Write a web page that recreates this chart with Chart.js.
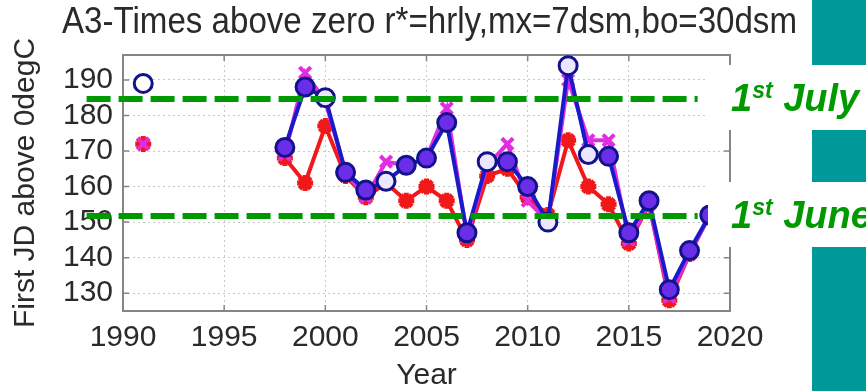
<!DOCTYPE html>
<html>
<head>
<meta charset="utf-8">
<script src="https://cdn.jsdelivr.net/npm/chart.js@4.4.1/dist/chart.umd.min.js"></script>
<style>
html, body { margin: 0; padding: 0; background: #fff; }
#wrap { width: 866px; height: 391px; }
</style>
</head>
<body>
<div id="wrap"><canvas id="grafico" width="866" height="391"></canvas></div>
<script>
// anos e valores (dia juliano)
const anos = [1991, 1992, 1993, 1994, 1995, 1996, 1997, 1998, 1999, 2000,
              2001, 2002, 2003, 2004, 2005, 2006, 2007, 2008, 2009, 2010,
              2011, 2012, 2013, 2014, 2015, 2016, 2017, 2018, 2019];
const serieAzul = [189, null, null, null, null, null, null, 171, 188, 185,
                   164, 159, 161.5, 166, 168, 178, 147, 167, 167, 160,
                   150, 194, 169, 168.5, 147, 156, 131, 142, 152];
const serieMagenta = [172, null, null, null, null, null, null, 169, 192, 184,
                      164, 157, 167, 166, 168, 182, 146, 166, 172, 156,
                      150, 190, 173, 173, 145, 155, 129, 141, 152];
const serieVermelha = [172, null, null, null, null, null, null, 168, 161, 177,
                       163, 157, 161, 156, 160, 156, 145, 163, 165, 157,
                       152, 173, 160, 155, 144, 155, 128, 141, 152];
const circulosAbertos = [1991, 2000, 2003, 2008, 2011, 2012, 2013];

const ticksX = [1990, 1995, 2000, 2005, 2010, 2015, 2020];
const ticksY = [130, 140, 150, 160, 170, 180, 190];

// linhas de referencia: 1 de julho e 1 de junho
const referencias = [
    { dia: 184.6, texto: 'July' },
    { dia: 151.7, texto: 'June' }
];

const titulo = 'A3-Times above zero r*=hrly,mx=7dsm,bo=30dsm';
const fonte = '"Liberation Sans", Arial, sans-serif';

function pontos(valores) {
    return anos.map((a, i) => ({ x: a, y: valores[i] }));
}

const extras = {
    id: 'extras',
    beforeDatasetsDraw(chart) {
        const { ctx, chartArea: a } = chart;
        const x = chart.scales.x, y = chart.scales.y;
        ctx.save();
        ctx.strokeStyle = '#858585';
        ctx.lineWidth = 2;
        ctx.strokeRect(a.left, a.top, a.right - a.left, a.bottom - a.top);
        // pequenos tracos para dentro em cada tick
        ctx.lineWidth = 1.5;
        ctx.beginPath();
        ticksX.forEach(v => {
            const px = x.getPixelForValue(v);
            ctx.moveTo(px, a.bottom); ctx.lineTo(px, a.bottom - 6);
            ctx.moveTo(px, a.top); ctx.lineTo(px, a.top + 6);
        });
        ticksY.forEach(v => {
            const py = y.getPixelForValue(v);
            ctx.moveTo(a.left, py); ctx.lineTo(a.left + 6, py);
            ctx.moveTo(a.right, py); ctx.lineTo(a.right - 6, py);
        });
        ctx.stroke();
        ctx.restore();
    },
    afterDraw(chart) {
        const { ctx, chartArea: a } = chart;
        const x = chart.scales.x, y = chart.scales.y;
        ctx.save();

        // titulo (esticado para a largura do original)
        ctx.font = '36px ' + fonte;
        ctx.fillStyle = '#2a2a2a';
        ctx.textBaseline = 'alphabetic';
        const w = ctx.measureText(titulo).width;
        ctx.save();
        ctx.translate(62, 33);
        ctx.scale(735 / w, 1);
        ctx.fillText(titulo, 0, 0);
        ctx.restore();

        // linhas tracejadas verdes
        ctx.strokeStyle = '#009a00';
        ctx.lineWidth = 6;
        ctx.setLineDash([24, 8]);
        referencias.forEach(r => {
            const py = y.getPixelForValue(r.dia);
            ctx.beginPath();
            ctx.moveTo(x.getPixelForValue(1988.2), py);
            ctx.lineTo(x.getPixelForValue(2018.4), py);
            ctx.stroke();
        });
        ctx.setLineDash([]);

        // caixas brancas atras do texto e blocos verde-azulados
        ctx.fillStyle = '#ffffff';
        ctx.fillRect(708, 65, 104, 65);
        ctx.fillRect(708, 182, 104, 65);
        ctx.fillStyle = '#009999';
        ctx.fillRect(812, 0, 54, 65);
        ctx.fillRect(812, 130, 54, 52);
        ctx.fillRect(812, 247, 54, 144);

        // rotulos "1st July" / "1st June"
        ctx.fillStyle = '#009a00';
        referencias.forEach(r => {
            const base = y.getPixelForValue(r.dia) + 12;
            let px = a.right + 1;
            ctx.font = 'italic bold 38px ' + fonte;
            ctx.fillText('1', px, base);
            px += ctx.measureText('1').width;
            ctx.font = 'italic bold 23px ' + fonte;
            ctx.fillText('st', px, base - 13);
            px += ctx.measureText('st').width;
            ctx.font = 'italic bold 38px ' + fonte;
            ctx.fillText(' ' + r.texto, px, base);
        });
        ctx.restore();
    }
};

const ctx = document.getElementById('grafico').getContext('2d');

const grafico = new Chart(ctx, {
    type: 'line',
    data: {
        datasets: [
            {
                label: 'azul',
                data: pontos(serieAzul),
                borderColor: '#1a1acb',
                borderWidth: 4,
                pointStyle: 'circle',
                pointRadius: 9,
                pointBorderWidth: 3,
                pointBorderColor: '#12128c',
                pointBackgroundColor: anos.map(a => a === 1991 ? '#ffffff' :
                    (circulosAbertos.includes(a) ? '#ece6ff' : '#6a2ee8')),
                spanGaps: false
            },
            {
                label: 'magenta',
                data: pontos(serieMagenta),
                borderColor: '#e22ce2',
                borderWidth: 4,
                pointStyle: 'crossRot',
                pointRadius: 8,
                pointBorderWidth: 4,
                pointBorderColor: '#e22ce2',
                spanGaps: false
            },
            {
                label: 'vermelho',
                data: pontos(serieVermelha),
                borderColor: '#f01818',
                borderWidth: 4,
                pointStyle: 'star',
                pointRadius: 8,
                pointBorderWidth: 5,
                pointBorderColor: '#f01818',
                pointBackgroundColor: '#f01818',
                spanGaps: false
            }
        ]
    },
    options: {
        responsive: false,
        animation: false,
        devicePixelRatio: 1,
        layout: { padding: { top: 55, right: 136, left: 0, bottom: 0 } },
        plugins: {
            legend: { display: false },
            tooltip: { enabled: false }
        },
        scales: {
            x: {
                type: 'linear',
                min: 1990,
                max: 2020,
                afterBuildTicks: s => { s.ticks = ticksX.map(v => ({ value: v })); },
                afterFit: s => { s.height = 80; },
                grid: { color: '#c9c9c9', lineWidth: 1, drawTicks: false },
                border: { display: false, dash: [2, 3] },
                ticks: {
                    padding: 9,
                    color: '#2a2a2a',
                    font: { family: fonte, size: 30 },
                    callback: v => String(v),
                    maxRotation: 0
                },
                title: {
                    display: true,
                    text: 'Year',
                    color: '#2a2a2a',
                    font: { family: fonte, size: 30, lineHeight: 1 },
                    padding: { top: 0, bottom: 0 }
                }
            },
            y: {
                min: 125,
                max: 197,
                afterBuildTicks: s => { s.ticks = ticksY.map(v => ({ value: v })); },
                afterFit: s => { s.width = 123; },
                grid: { color: '#c9c9c9', lineWidth: 1, drawTicks: false },
                border: { display: false, dash: [2, 3] },
                ticks: {
                    padding: 10,
                    color: '#2a2a2a',
                    font: { family: fonte, size: 30 }
                },
                title: {
                    display: true,
                    text: 'First JD above 0degC',
                    color: '#2a2a2a',
                    font: { family: fonte, size: 30, lineHeight: 1 },
                    padding: { top: 11, bottom: 0 }
                }
            }
        }
    },
    plugins: [extras]
});
</script>
</body>
</html>
